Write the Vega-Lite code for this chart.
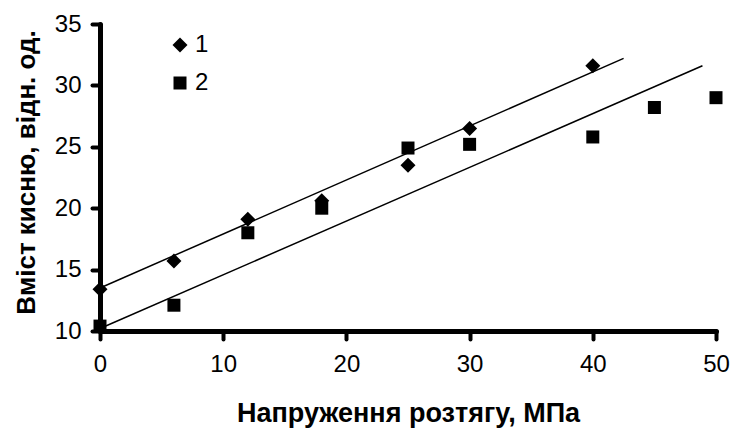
{
  "$schema": "https://vega.github.io/schema/vega-lite/v6.json",
  "width": 616,
  "height": 307,
  "autosize": {"type": "none"},
  "padding": {"left": 100, "top": 24, "right": 17, "bottom": 97},
  "background": "white",
  "config": {
    "view": {"stroke": null},
    "font": "Liberation Sans"
  },
  "datasets": {
    "pts": [
      {"x": 0, "y": 13.4, "series": "1"},
      {"x": 6, "y": 15.7, "series": "1"},
      {"x": 12, "y": 19.1, "series": "1"},
      {"x": 18, "y": 20.6, "series": "1"},
      {"x": 25, "y": 23.5, "series": "1"},
      {"x": 30, "y": 26.5, "series": "1"},
      {"x": 40, "y": 31.6, "series": "1"},
      {"x": 0, "y": 10.4, "series": "2"},
      {"x": 6, "y": 12.1, "series": "2"},
      {"x": 12, "y": 18.0, "series": "2"},
      {"x": 18, "y": 20.0, "series": "2"},
      {"x": 25, "y": 24.9, "series": "2"},
      {"x": 30, "y": 25.2, "series": "2"},
      {"x": 40, "y": 25.8, "series": "2"},
      {"x": 45, "y": 28.2, "series": "2"},
      {"x": 50, "y": 29.0, "series": "2"}
    ],
    "trend": [
      {"x": 0, "y": 13.5, "series": "1"},
      {"x": 42.5, "y": 32.2, "series": "1"},
      {"x": 0, "y": 10.2, "series": "2"},
      {"x": 48.9, "y": 31.6, "series": "2"}
    ]
  },
  "encoding": {
    "x": {
      "field": "x", "type": "quantitative",
      "scale": {"domain": [0, 50], "nice": false, "zero": false},
      "axis": {
        "values": [0, 10, 20, 30, 40, 50],
        "title": "Напруження розтягу, МПа",
        "titleFont": "Liberation Sans", "titleFontWeight": "bold", "titleFontSize": 27,
        "titleColor": "black", "titleBaseline": "alphabetic", "titleY": 90,
        "labelFont": "Liberation Sans", "labelFontSize": 24, "labelColor": "black",
        "labelPadding": 13, "labelFlush": false,
        "domainColor": "black", "domainWidth": 5, "domainCap": "round",
        "tickColor": "black", "tickWidth": 4, "tickSize": 8, "tickCap": "round",
        "grid": false
      }
    },
    "y": {
      "field": "y", "type": "quantitative",
      "scale": {"domain": [10, 35], "nice": false, "zero": false},
      "axis": {
        "values": [10, 15, 20, 25, 30, 35],
        "title": "Вміст кисню, відн. од.",
        "titleFont": "Liberation Sans", "titleFontWeight": "bold", "titleFontSize": 26,
        "titleColor": "black", "titleBaseline": "alphabetic", "titleX": -66, "titleY": 148,
        "labelFont": "Liberation Sans", "labelFontSize": 24, "labelColor": "black",
        "labelPadding": 11, "labelFlush": false,
        "domainColor": "black", "domainWidth": 5, "domainCap": "round",
        "tickColor": "black", "tickWidth": 4, "tickSize": 8, "tickCap": "round",
        "grid": false
      }
    }
  },
  "layer": [
    {
      "data": {"name": "trend"},
      "mark": {"type": "line", "color": "black", "strokeWidth": 1.5},
      "encoding": {
        "detail": {"field": "series"}
      }
    },
    {
      "data": {"name": "pts"},
      "mark": {"type": "point", "filled": true, "opacity": 1, "color": "black"},
      "encoding": {
        "size": {
          "field": "series", "type": "nominal",
          "scale": {"domain": ["1", "2"], "range": [225, 169]}
        },
        "shape": {
          "field": "series", "type": "nominal",
          "scale": {"domain": ["1", "2"], "range": ["diamond", "square"]},
          "legend": {
            "title": null, "orient": "none", "legendX": 68, "legendY": 9,
            "padding": 0, "symbolFillColor": "black",
            "symbolStrokeColor": "black",
            "labelFont": "Liberation Sans", "labelFontSize": 24, "labelColor": "black",
            "labelOffset": 3, "rowPadding": 14
          }
        }
      }
    }
  ]
}
